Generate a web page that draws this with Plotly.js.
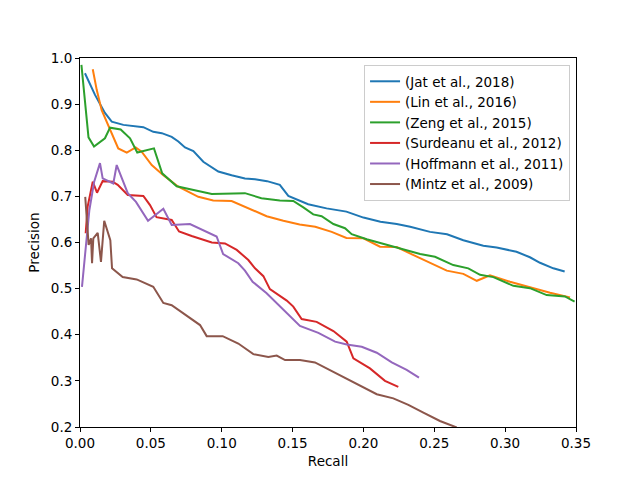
<!DOCTYPE html>
<html>
<head>
<meta charset="utf-8">
<script src="https://cdn.plot.ly/plotly-3.0.1.min.js"></script>
<style>html,body{margin:0;padding:0;background:#fff;}#chart{width:640px;height:480px;}</style>
</head>
<body>
<div id="chart"></div>
<script>
// Series names
const seriesNames = ["(Jat et al., 2018)", "(Lin et al., 2016)", "(Zeng et al., 2015)",
  "(Surdeanu et al., 2012)", "(Hoffmann et al., 2011)", "(Mintz et al., 2009)"];
const seriesColors = ["#1f77b4", "#ff7f0e", "#2ca02c", "#d62728", "#9467bd", "#8c564b"];

// Jat et al., 2018
const jatRecall = [0.0035,0.0106,0.0176,0.0224,0.0306,0.0376,0.0447,0.0517,0.0577,0.0647,0.0694,0.0741,0.080,0.087,0.0976,0.107,0.1164,0.1235,0.132,0.141,0.147,0.161,0.174,0.188,0.200,0.212,0.2235,0.233,0.247,0.259,0.2705,0.2846,0.294,0.308,0.3175,0.3246,0.334,0.342];
const jatPrecision = [0.967,0.920,0.881,0.862,0.855,0.853,0.850,0.840,0.837,0.829,0.819,0.806,0.798,0.775,0.754,0.746,0.739,0.737,0.733,0.725,0.701,0.683,0.674,0.667,0.654,0.645,0.640,0.634,0.623,0.618,0.605,0.593,0.589,0.580,0.568,0.556,0.544,0.537];

// Lin et al., 2016
const linRecall = [0.009,0.0118,0.0153,0.0212,0.027,0.033,0.0393,0.0435,0.0506,0.0588,0.0694,0.0835,0.094,0.107,0.12,0.1317,0.1435,0.155,0.166,0.1776,0.188,0.200,0.2117,0.2235,0.235,0.247,0.2588,0.2705,0.280,0.2893,0.3034,0.3175,0.3317,0.3458];
const linPrecision = [0.9755,0.931,0.887,0.844,0.804,0.795,0.806,0.797,0.768,0.746,0.721,0.699,0.691,0.690,0.672,0.657,0.647,0.639,0.634,0.623,0.610,0.609,0.591,0.590,0.573,0.556,0.539,0.532,0.517,0.529,0.515,0.503,0.491,0.481];

// Zeng et al., 2015
const zengRecall = [0.001,0.006,0.0099,0.0176,0.0212,0.0287,0.0353,0.0404,0.0522,0.058,0.0682,0.0788,0.093,0.1164,0.128,0.141,0.1505,0.1576,0.1646,0.1705,0.1788,0.187,0.1917,0.2023,0.214,0.2258,0.24,0.2505,0.2634,0.274,0.2823,0.2917,0.3058,0.3175,0.3293,0.3422,0.349];
const zengPrecision = [0.985,0.828,0.808,0.826,0.849,0.845,0.826,0.795,0.804,0.750,0.722,0.715,0.705,0.707,0.696,0.691,0.690,0.676,0.661,0.657,0.640,0.631,0.618,0.607,0.597,0.587,0.575,0.569,0.551,0.544,0.530,0.525,0.506,0.501,0.486,0.483,0.472];

// Surdeanu et al., 2012
const surdeanuRecall = [0.004,0.0054,0.009,0.012,0.016,0.023,0.0266,0.0337,0.0447,0.0494,0.054,0.0647,0.0699,0.0788,0.093,0.1023,0.1106,0.1188,0.1235,0.1294,0.134,0.140,0.1459,0.1505,0.1564,0.167,0.1788,0.1882,0.1929,0.2046,0.2152,0.2246];
const surdeanuPrecision = [0.62,0.678,0.732,0.708,0.733,0.732,0.725,0.703,0.701,0.681,0.655,0.649,0.624,0.614,0.600,0.598,0.584,0.562,0.544,0.527,0.499,0.486,0.474,0.461,0.434,0.428,0.408,0.385,0.349,0.327,0.300,0.287];

// Hoffmann et al., 2011
const hoffmannRecall = [0.0014,0.0066,0.010,0.0141,0.016,0.0235,0.0259,0.0337,0.0395,0.048,0.0588,0.0647,0.0776,0.0964,0.101,0.1117,0.1164,0.1218,0.1317,0.1435,0.1552,0.1682,0.18,0.1882,0.1988,0.2094,0.22,0.2305,0.2392];
const hoffmannPrecision = [0.504,0.670,0.732,0.772,0.739,0.728,0.768,0.707,0.688,0.647,0.673,0.638,0.640,0.613,0.575,0.555,0.539,0.515,0.490,0.454,0.419,0.404,0.385,0.379,0.374,0.361,0.340,0.324,0.307];

// Mintz et al., 2009
const mintzRecall = [0.0037,0.0061,0.0078,0.0085,0.0094,0.0125,0.0148,0.0171,0.0214,0.0226,0.0301,0.040,0.0517,0.0588,0.0647,0.0764,0.0847,0.0894,0.1007,0.1117,0.1223,0.1329,0.1388,0.1447,0.1552,0.1658,0.1788,0.1905,0.200,0.2094,0.2211,0.2317,0.2423,0.254,0.2658];
const mintzPrecision = [0.699,0.595,0.609,0.555,0.609,0.621,0.558,0.647,0.605,0.544,0.525,0.520,0.504,0.469,0.464,0.439,0.421,0.397,0.397,0.381,0.358,0.352,0.355,0.345,0.345,0.340,0.319,0.300,0.285,0.271,0.262,0.248,0.231,0.213,0.199];

const xs = [jatRecall, linRecall, zengRecall, surdeanuRecall, hoffmannRecall, mintzRecall];
const ys = [jatPrecision, linPrecision, zengPrecision, surdeanuPrecision, hoffmannPrecision, mintzPrecision];

// Axis ticks
const xTicks = [0, 0.05, 0.10, 0.15, 0.20, 0.25, 0.30, 0.35];
const xTickLabels = ["0.00","0.05","0.10","0.15","0.20","0.25","0.30","0.35"];
const yTicks = [0.2,0.3,0.4,0.5,0.6,0.7,0.8,0.9,1.0];
const yTickLabels = ["0.2","0.3","0.4","0.5","0.6","0.7","0.8","0.9","1.0"];

const traces = seriesNames.map((n, i) => ({
  x: xs[i], y: ys[i], name: n, type: 'scatter', mode: 'lines',
  line: {color: seriesColors[i], width: 2}
}));

const font = {family: 'DejaVu Sans', size: 13.5, color: '#000'};
const axisCommon = {
  showgrid: false, zeroline: false, showline: true, mirror: true,
  linecolor: '#000', linewidth: 1, ticks: 'outside', ticklen: 4, tickwidth: 1, tickcolor: '#000',
  tickfont: font
};

const layout = {
  width: 640, height: 480,
  margin: {l: 80, r: 64, t: 58, b: 53, pad: 0},
  paper_bgcolor: '#fff', plot_bgcolor: '#fff',
  font: font,
  showlegend: true,
  legend: {
    x: 0.988, xanchor: 'right', y: 0.981, yanchor: 'top',
    bordercolor: '#cccccc', borderwidth: 1, bgcolor: 'rgba(255,255,255,0.8)',
    font: font, tracegroupgap: 0
  },
  xaxis: Object.assign({}, axisCommon, {
    range: [0, 0.35], tickvals: xTicks, ticktext: xTickLabels,
    title: {text: 'Recall', font: font, standoff: 6}
  }),
  yaxis: Object.assign({}, axisCommon, {
    range: [0.2, 1.0], tickvals: yTicks, ticktext: yTickLabels,
    title: {text: 'Precision', font: font, standoff: 8}
  })
};

Plotly.newPlot('chart', traces, layout, {staticPlot: true, displayModeBar: false});
</script>
</body>
</html>
